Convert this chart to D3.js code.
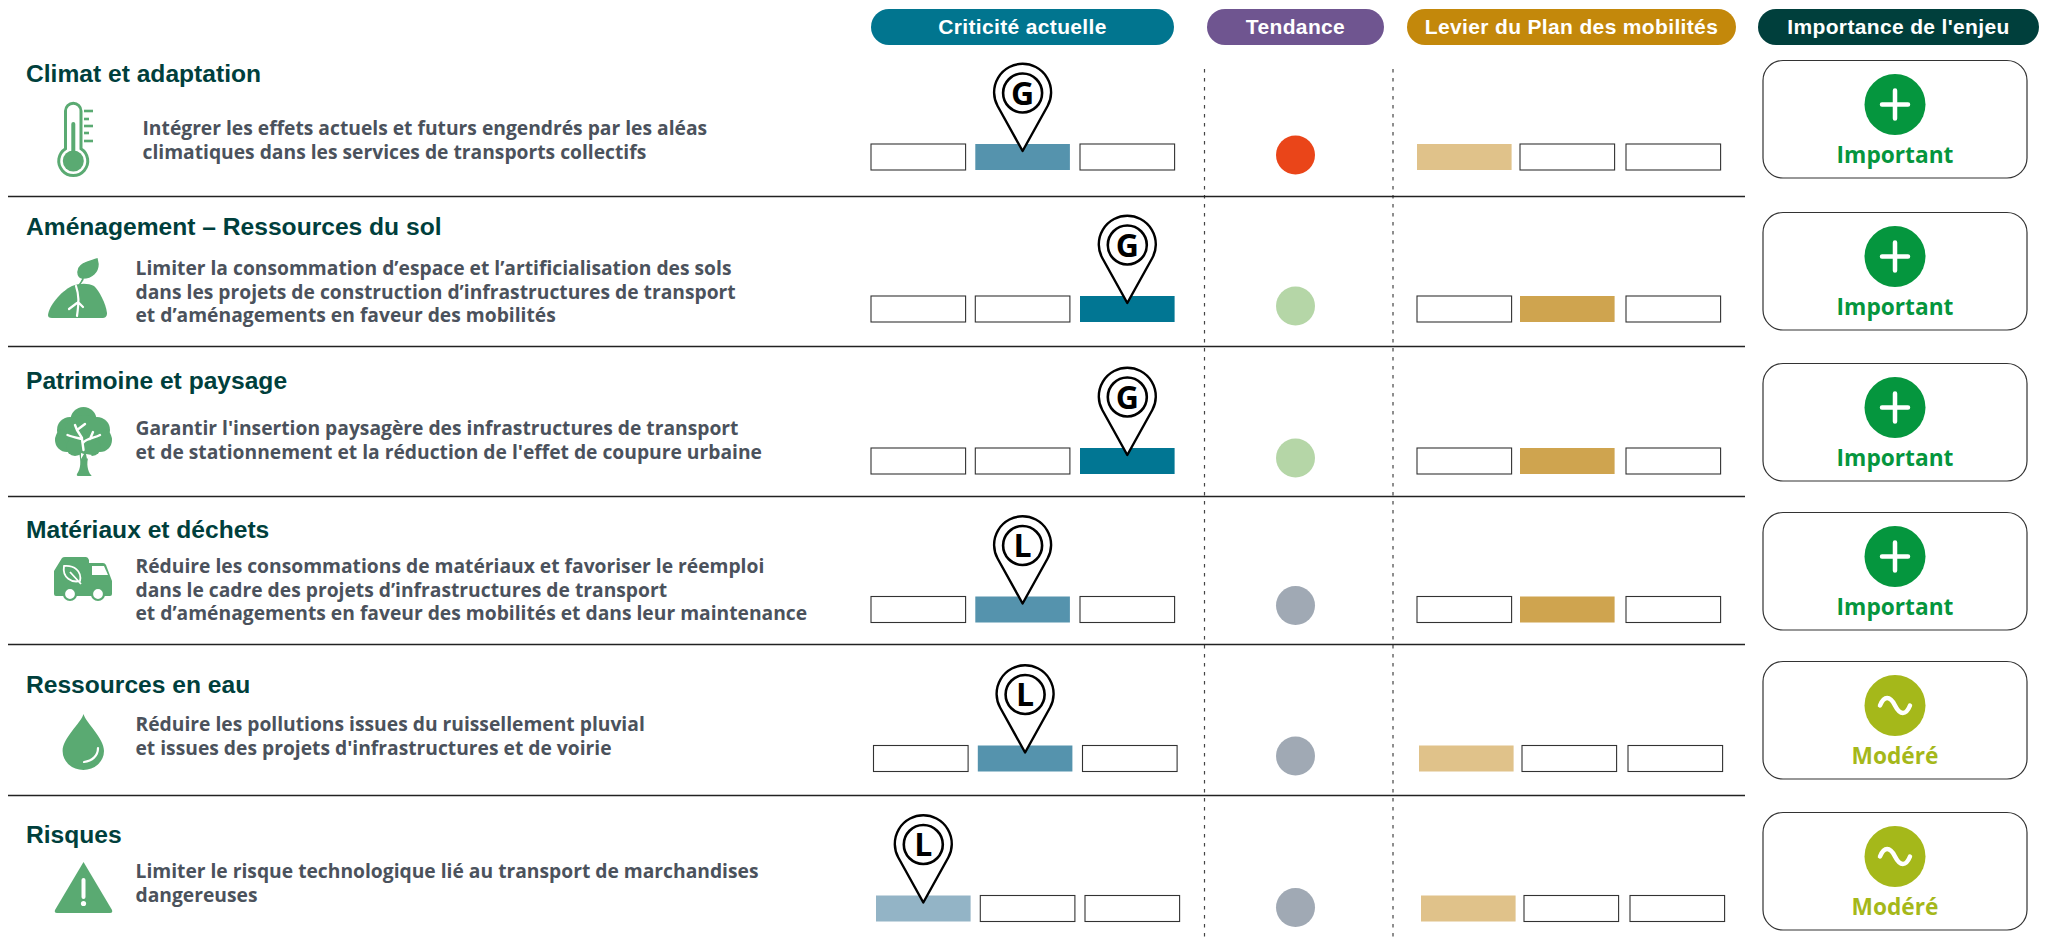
<!DOCTYPE html>
<html lang="fr">
<head>
<meta charset="utf-8">
<title>Enjeux environnementaux</title>
<script src="https://cdn.jsdelivr.net/npm/d3@7"></script>
<style>
  html, body { margin: 0; padding: 0; background: #fff; }
  svg { display: block; }
</style>
</head>
<body>
<div id="visualisation"></div>
<script>
// Données
var colonnes = ["Criticité actuelle", "Tendance", "Levier du Plan des mobilités", "Importance de l'enjeu"];
var themes = ["Climat et adaptation", "Aménagement – Ressources du sol", "Patrimoine et paysage", "Matériaux et déchets", "Ressources en eau", "Risques"];
var enjeux = [
  ["Intégrer les effets actuels et futurs engendrés par les aléas", "climatiques dans les services de transports collectifs"],
  ["Limiter la consommation d’espace et l’artificialisation des sols", "dans les projets de construction d’infrastructures de transport", "et d’aménagements en faveur des mobilités"],
  ["Garantir l'insertion paysagère des infrastructures de transport", "et de stationnement et la réduction de l'effet de coupure urbaine"],
  ["Réduire les consommations de matériaux et favoriser le réemploi", "dans le cadre des projets d’infrastructures de transport", "et d’aménagements en faveur des mobilités et dans leur maintenance"],
  ["Réduire les pollutions issues du ruissellement pluvial", "et issues des projets d'infrastructures et de voirie"],
  ["Limiter le risque technologique lié au transport de marchandises", "dangereuses"]
];
var criticite = [2, 3, 3, 2, 2, 1];
var echelle = ["G", "G", "G", "L", "L", "L"];
var tendance = ["Dégradation", "Amélioration", "Amélioration", "Stable", "Stable", "Stable"];
var levier = [1, 2, 2, 2, 1, 1];
var importance = ["Important", "Important", "Important", "Important", "Modéré", "Modéré"];
var niveaux = [1, 2, 3];
var indices = d3.range(themes.length);

// Mise en page
var width = 2047, height = 942;
var vert = "#5aaa72", texteTheme = "#003f3c", texteEnjeu = "#4b525c";
var arial = "'Liberation Sans', Arial, sans-serif", openSans = "'Open Sans', sans-serif";
var largeurCase = 94.6;

var svg = d3.select("#visualisation").append("svg").attr("width", width).attr("height", height);

// Échelles : une position par ligne, une position par niveau
var yBarre = d3.scaleOrdinal().domain(indices).range([144, 296, 448, 596.5, 745.5, 895.5]);
var yTheme = d3.scaleOrdinal().domain(indices).range([82, 235, 389, 537.5, 692.5, 842.5]);
var yEnjeu = d3.scaleOrdinal().domain(indices).range([135, 275, 435, 573, 731, 878]);
var yPoint = d3.scaleOrdinal().domain(indices).range([155, 306, 458, 605.5, 756, 907.5]);
var yBoite = d3.scaleOrdinal().domain(indices).range([60.5, 212.5, 363.5, 512.5, 661.5, 812.5]);
var decalCrit = d3.scaleOrdinal().domain(indices).range([0, 0, 0, 0, 2.5, 5]);
var decalLevier = d3.scaleOrdinal().domain(indices).range([0, 0, 0, 0, 2, 4]);

var xCrit = d3.scaleOrdinal().domain(niveaux).range([871, 975.3, 1080]);
var xLevier = d3.scaleOrdinal().domain(niveaux).range([1417, 1520, 1626]);

var couleurCrit = d3.scaleOrdinal().domain(niveaux).range(["#93b4c6", "#5593ad", "#017693"]);
var couleurLevier = d3.scaleOrdinal().domain(niveaux).range(["#e0c28a", "#cfa44f", "#c38a0b"]);
var couleurTendance = d3.scaleOrdinal().domain(["Dégradation", "Amélioration", "Stable"]).range(["#ea4519", "#b5d6a7", "#a0a9b4"]);
var couleurImportance = d3.scaleOrdinal().domain(["Important", "Modéré"]).range(["#05963e", "#a5b81a"]);

// En-têtes
var pastilles = [
  {x: 871, w: 303, fill: "#01758f"},
  {x: 1207, w: 177, fill: "#6f5590"},
  {x: 1407, w: 329, fill: "#c3880b"},
  {x: 1758, w: 281, fill: "#003f3c"}
];
var entetes = svg.append("g").selectAll("g").data(colonnes).enter().append("g");
entetes.append("rect")
  .attr("x", function(d, i) { return pastilles[i].x; })
  .attr("y", 9).attr("width", function(d, i) { return pastilles[i].w; })
  .attr("height", 36).attr("rx", 18)
  .attr("fill", function(d, i) { return pastilles[i].fill; });
entetes.append("text")
  .attr("x", function(d, i) { return pastilles[i].x + pastilles[i].w / 2; })
  .attr("y", 33.5).attr("text-anchor", "middle")
  .attr("font-family", arial).attr("font-weight", 700).attr("font-size", 21).attr("letter-spacing", 0.35)
  .attr("fill", "#fff")
  .text(function(d) { return d; });

// Séparateurs
svg.append("g").selectAll("line").data([1204.5, 1393]).enter().append("line")
  .attr("x1", function(d) { return d; }).attr("x2", function(d) { return d; })
  .attr("y1", 69).attr("y2", 938)
  .attr("stroke", "#444").attr("stroke-width", 1.2).attr("stroke-dasharray", "3.5 5.5");
svg.append("g").selectAll("line").data([196.5, 346.5, 496.5, 644.5, 795.5]).enter().append("line")
  .attr("x1", 8).attr("x2", 1745)
  .attr("y1", function(d) { return d; }).attr("y2", function(d) { return d; })
  .attr("stroke", "#222").attr("stroke-width", 1.3);

// Titres et descriptions
svg.append("g").selectAll("text").data(themes).enter().append("text")
  .attr("x", 26).attr("y", function(d, i) { return yTheme(i); })
  .attr("font-family", arial).attr("font-weight", 700).attr("font-size", 24.6)
  .attr("fill", texteTheme)
  .text(function(d) { return d; });

var descriptions = svg.append("g").selectAll("text").data(enjeux).enter().append("text")
  .attr("font-family", openSans).attr("font-weight", 700).attr("font-size", 19.25)
  .attr("fill", texteEnjeu)
  .attr("transform", function(d, i) { return "translate(" + (i == 0 ? 142.5 : 135.5) + "," + yEnjeu(i) + ")"; });
descriptions.selectAll("tspan").data(function(d) { return d; }).enter().append("tspan")
  .attr("x", 0).attr("y", function(d, i) { return i * 23.5; })
  .text(function(d) { return d; });

// Cases de niveau (criticité et levier)
function dessineCases(valeurs, x, decal, couleur) {
  var lignes = svg.append("g").selectAll("g").data(valeurs).enter().append("g")
    .attr("transform", function(d, i) { return "translate(" + decal(i) + "," + yBarre(i) + ")"; });
  lignes.selectAll("rect")
    .data(function(v) { return niveaux.map(function(n) { return {niveau: n, actif: n == v}; }); })
    .enter().append("rect")
    .attr("x", function(d) { return x(d.niveau); })
    .attr("y", 0).attr("width", largeurCase).attr("height", 26)
    .attr("fill", function(d) { return d.actif ? couleur(d.niveau) : "#fff"; })
    .attr("stroke", function(d) { return d.actif ? "none" : "#333"; })
    .attr("stroke-width", 1.1);
}
dessineCases(criticite, xCrit, decalCrit, couleurCrit);
dessineCases(levier, xLevier, decalLevier, couleurLevier);

// Repères G / L posés sur la case de criticité
var reperes = svg.append("g").selectAll("g").data(criticite).enter().append("g")
  .attr("transform", function(d, i) {
    return "translate(" + (xCrit(d) + largeurCase / 2 + decalCrit(i)) + "," + (yBarre(i) + 7) + ")";
  });
reperes.append("path")
  .attr("d", "M0,0 L-25,-45 A28.5,28.5 0 1 1 25,-45 Z")
  .attr("fill", "#fff").attr("stroke", "#000").attr("stroke-width", 2.4).attr("stroke-linejoin", "round");
reperes.append("circle")
  .attr("cx", 0).attr("cy", -58).attr("r", 19.5)
  .attr("fill", "#fff").attr("stroke", "#000").attr("stroke-width", 2.6);
reperes.append("text")
  .attr("x", 0).attr("y", -46.5).attr("text-anchor", "middle")
  .attr("font-family", openSans).attr("font-weight", 700).attr("font-size", 32)
  .attr("fill", "#000")
  .text(function(d, i) { return echelle[i]; });

// Tendance
svg.append("g").selectAll("circle").data(tendance).enter().append("circle")
  .attr("cx", 1295.5).attr("cy", function(d, i) { return yPoint(i); }).attr("r", 19.5)
  .attr("fill", function(d) { return couleurTendance(d); });

// Importance de l'enjeu
var boites = svg.append("g").selectAll("g").data(importance).enter().append("g")
  .attr("transform", function(d, i) { return "translate(1763," + yBoite(i) + ")"; });
boites.append("rect")
  .attr("width", 264).attr("height", 117.5).attr("rx", 20)
  .attr("fill", "#fff").attr("stroke", "#333").attr("stroke-width", 1.2);
boites.append("circle")
  .attr("cx", 132).attr("cy", 44).attr("r", 30.5)
  .attr("fill", function(d) { return couleurImportance(d); });
boites.append("path")
  .attr("transform", "translate(132,44)")
  .attr("d", function(d) { return d == "Important" ? "M-13,0 H13 M0,-14 V14" : "M-15,0 C-11,-10 -5,-10 0,0 S11,10 15,0"; })
  .attr("fill", "none").attr("stroke", "#fff").attr("stroke-width", 4.5).attr("stroke-linecap", "round");
boites.append("text")
  .attr("x", 132).attr("y", 102.5).attr("text-anchor", "middle")
  .attr("font-family", openSans).attr("font-weight", 700).attr("font-size", 22.7)
  .attr("fill", function(d) { return couleurImportance(d); })
  .text(function(d) { return d; });

// Pictogrammes
var picto = svg.append("g");

// thermomètre
var th = picto.append("g");
th.append("path")
  .attr("d", "M65.5,148.7 V111 A7.75,7.75 0 0 1 81,111 V148.7 A14.5,14.5 0 1 1 65.5,148.7 Z")
  .attr("fill", "none").attr("stroke", vert).attr("stroke-width", 3);
th.append("circle").attr("cx", 73.3).attr("cy", 161).attr("r", 10.5).attr("fill", vert);
th.append("line").attr("x1", 73.3).attr("x2", 73.3).attr("y1", 124).attr("y2", 155)
  .attr("stroke", vert).attr("stroke-width", 4).attr("stroke-linecap", "round");
th.selectAll("rect").data([[111, 9], [119, 5], [126, 9], [133, 5], [141, 9]]).enter().append("rect")
  .attr("x", 84).attr("y", function(d) { return d[0] - 1.3; })
  .attr("width", function(d) { return d[1]; }).attr("height", 2.6)
  .attr("fill", vert);

// pousse
var pl = picto.append("g");
pl.append("path")
  .attr("d", "M48,315 C49,306 60,292 72,286 C80,283 88,283 94,286 C99,290 106,304 107,313 C107,317 105,318 102,318 H52 C49,318 48,317 48,315 Z")
  .attr("fill", vert);
pl.append("path")
  .attr("d", "M97,259 C92,261 82,262 79,268 C77,273 78,278 83,278 C92,278 98,272 98,264 Z M79,286 C80,282 84,281 83,277")
  .attr("fill", vert).attr("stroke", vert).attr("stroke-width", 1.5);
pl.append("path")
  .attr("d", "M76,286 C79,295 79,302 77,316 M77,303 L69,309 M78,302 L83,307")
  .attr("fill", "none").attr("stroke", "#fff").attr("stroke-width", 2.2).attr("stroke-linecap", "round");

// arbre
var ar = picto.append("g");
ar.selectAll("circle").data([[83.5, 420, 13], [70, 430, 13], [97, 430, 13], [67, 440, 12], [100, 440, 12], [84, 435, 20], [75, 447, 9], [92, 447, 9]])
  .enter().append("circle")
  .attr("cx", function(d) { return d[0]; }).attr("cy", function(d) { return d[1]; }).attr("r", function(d) { return d[2]; })
  .attr("fill", vert);
ar.append("path")
  .attr("d", "M79,452 C81,462 81,468 77,474 Q76,476 79,476 H90 Q93,476 90,474 C87,468 86,462 90,452 Z")
  .attr("fill", vert);
ar.append("path")
  .attr("d", "M83.5,450 L82,439 C78,438 72,437 67.5,435 M83,443 C86,438 95,438 100,435 M82,438 L77,430 L85,424 M77,430 L75,425 M90,439 L93,432")
  .attr("fill", "none").attr("stroke", "#fff").attr("stroke-width", 2.4).attr("stroke-linecap", "round").attr("stroke-linejoin", "round");
ar.append("path").attr("d", "M81,453 L81,459 L84,454 Z M86,454 L92,455 L87,459 Z").attr("fill", "#fff");

// camion
var ca = picto.append("g");
ca.append("path")
  .attr("d", "M54,571 L62,558 Q63,557 65,557 H86 Q88,557 89,560 V563 H103 Q105,563 106,565 L112,581 V594 Q112,596 110,596 H56 Q54,596 54,594 Z")
  .attr("fill", vert);
ca.selectAll("circle.roue").data([70, 98]).enter().append("circle").attr("class", "roue")
  .attr("cx", function(d) { return d; }).attr("cy", 594).attr("r", 6)
  .attr("fill", "#fff").attr("stroke", vert).attr("stroke-width", 2.2);
ca.append("path").attr("d", "M92,566 H104 L108,575 H92 Z").attr("fill", "#fff");
ca.append("path")
  .attr("d", "M64,566 C74,565 82,571 80,581 C72,583 62,578 64,566 Z M70,572 L81,584")
  .attr("fill", "none").attr("stroke", "#fff").attr("stroke-width", 1.8);

// goutte
picto.append("path")
  .attr("d", "M83.5,714 C86,723 104,738 104,751 A20.7,19 0 0 1 62.6,751 C62.6,738 81,723 83.5,714 Z")
  .attr("fill", vert);
picto.append("path")
  .attr("d", "M98,748 C98,756 92,761 84,762")
  .attr("fill", "none").attr("stroke", "#fff").attr("stroke-width", 2.2).attr("stroke-linecap", "round");

// danger
picto.append("path")
  .attr("d", "M83.5,862 L112,910 Q113,913 110,913 H57 Q54,913 55,910 Z")
  .attr("fill", vert);
picto.append("path").attr("d", "M83.5,880 V897").attr("stroke", "#fff").attr("stroke-width", 4).attr("stroke-linecap", "round");
picto.append("circle").attr("cx", 83.5).attr("cy", 903.5).attr("r", 2.6).attr("fill", "#fff");
</script>
</body>
</html>
